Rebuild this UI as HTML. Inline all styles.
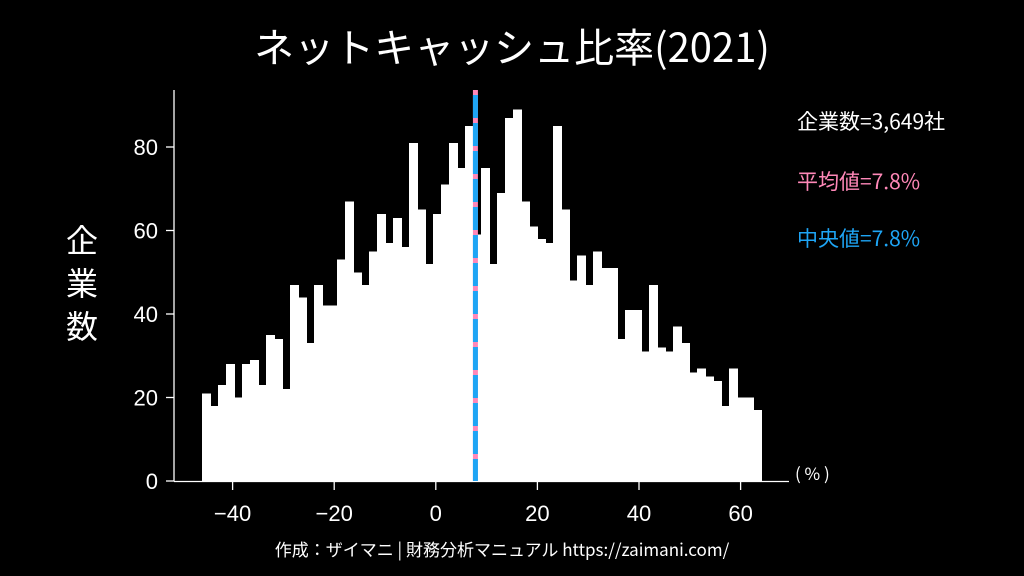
<!DOCTYPE html>
<html><head><meta charset="utf-8"><style>
html,body{margin:0;padding:0;background:#000;}
svg{display:block;}
text{font-family:"Liberation Sans","Noto Sans CJK JP",sans-serif;fill:#fff;}
.jp{font-family:"Noto Sans CJK JP","Liberation Sans",sans-serif;}
</style></head><body>
<svg id="chart" width="1024" height="576" viewBox="0 0 1024 576">
<rect width="1024" height="576" fill="#000"/>
<text class="jp" x="512" y="62" font-size="40" text-anchor="middle">ネットキャッシュ比率(2021)</text>
<g id="bars" shape-rendering="crispEdges"></g>
<g id="axes"></g>
<text class="jp" x="82" y="290" font-size="32" text-anchor="middle"><tspan x="82" y="252">企</tspan><tspan x="82" y="295">業</tspan><tspan x="82" y="338">数</tspan></text>
<text class="jp" x="795" y="480" font-size="17">( % )</text>
<text class="jp" x="797" y="129" font-size="21">企業数=3,649社</text>
<text class="jp" x="797" y="189" font-size="21" style="fill:#ff88b8">平均値=7.8%</text>
<text class="jp" x="797" y="246" font-size="21" style="fill:#1ea5f5">中央値=7.8%</text>
<text class="jp" x="502" y="556" font-size="17" text-anchor="middle">作成：ザイマニ | 財務分析マニュアル https://zaimani.com/</text>
</svg>
<script>
const counts = [21,18,23,28,20,28,29,23,35,34,22,47,44,33,47,42,42,53,67,50,47,55,64,57,63,56,81,65,52,64,71,81,75,85,59,75,52,69,87,89,67,61,58,57,85,65,48,54,47,55,51,51,34,41,41,31,47,32,31,37,33,26,27,25,24,18,27,20,20,17];
const binStart = -46.08;
const binWidth = 1.572;
const xTicks = [-40,-20,0,20,40,60];
const yTicks = [0,20,40,60,80];
const meanValue = 7.8;
const medianValue = 7.8;

const NS = "http://www.w3.org/2000/svg";
const x0 = 435.8, xs = 5.08, y0 = 481, ys = 4.175;
const X = v => x0 + v * xs;
const Y = v => y0 - v * ys;
function mk(tag, attrs, parent) {
  const e = document.createElementNS(NS, tag);
  for (const k in attrs) e.setAttribute(k, attrs[k]);
  parent.appendChild(e);
  return e;
}
const bars = document.getElementById('bars');
counts.forEach((c, i) => {
  const l = X(binStart + i * binWidth), r = X(binStart + (i + 1) * binWidth);
  const b = mk('rect', {x: Math.round(l), y: Y(c), width: Math.round(r) - Math.round(l) + 1, height: Y(0) - Y(c), fill: '#fff'}, bars);
  
  
});
const axes = document.getElementById('axes');
const ys1 = mk('line', {x1: 174, y1: 90, x2: 174, y2: 481.5, stroke: '#fff', 'stroke-width': 1.3}, axes);


const xs1 = mk('line', {x1: 174, y1: 481.5, x2: 789, y2: 481.5, stroke: '#fff', 'stroke-width': 1.3}, axes);


xTicks.forEach(t => {
  const tk = mk('line', {x1: X(t), y1: 481, x2: X(t), y2: 490, stroke: '#fff', 'stroke-width': 1.3}, axes);
  
  
  const lb = mk('text', {x: X(t), y: 521, 'font-size': 22, 'text-anchor': 'middle'}, axes);
  lb.textContent = t < 0 ? '\u2212' + Math.abs(t) : String(t);
  
  
});
yTicks.forEach(t => {
  const tk = mk('line', {x1: 166, y1: Y(t), x2: 174, y2: Y(t), stroke: '#fff', 'stroke-width': 1.3}, axes);
  
  
  const lb = mk('text', {x: 158, y: Y(t) + 8, 'font-size': 22, 'text-anchor': 'end'}, axes);
  lb.textContent = String(t);
  
  
});
const ml = mk('line', {x1: X(meanValue), y1: 90, x2: X(meanValue), y2: 481, stroke: '#ff88b8', 'stroke-width': 5}, axes);


const md = mk('line', {x1: X(medianValue), y1: 95, x2: X(medianValue), y2: 481, stroke: '#1ea5f5', 'stroke-width': 5, 'stroke-dasharray': '23 5'}, axes);


</script>
</body></html>
